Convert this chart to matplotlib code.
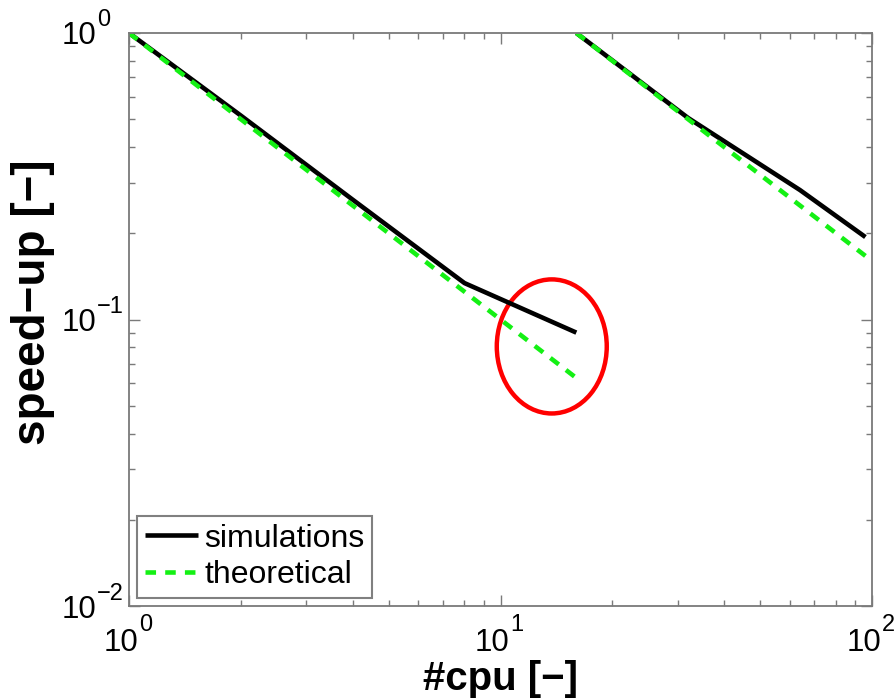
import matplotlib
matplotlib.use('Agg')
import matplotlib.pyplot as plt
from matplotlib.patches import Ellipse
from matplotlib.ticker import LogLocator, NullFormatter

# first run: 1..16 cpus, second run: 16..96 cpus (relative to 16)
cpu_a = [1, 2, 4, 8, 16]
sim_a = [1.0, 0.515, 0.262, 0.134, 0.09]
theo_a = [1.0, 0.5, 0.25, 0.125, 0.0625]

cpu_b = [16, 32, 64, 96]
sim_b = [1.0, 0.505, 0.283, 0.194]
theo_b = [1.0, 0.5, 0.25, 0.1667]

x_ticks = [1, 10, 100]
x_exps = ['0', '1', '2']
y_ticks = [0.01, 0.1, 1]
y_exps = ['\u22122', '\u22121', '0']

plt.rcParams['font.family'] = ['Liberation Sans', 'DejaVu Sans']

W, H = 896, 698
fig = plt.figure(figsize=(W / 100, H / 100), dpi=100)
ax = fig.add_axes([129 / W, 92 / H, 743 / W, 573 / H])

green = '#14f014'
lw = 3.3
ax.plot(cpu_a, sim_a, color='black', lw=lw, label='simulations', solid_capstyle='butt')
ax.plot(cpu_b, sim_b, color='black', lw=lw, solid_capstyle='butt')
ax.plot(cpu_a, theo_a, color=green, lw=lw, dashes=(2.3, 2.0), label='theoretical')
ax.plot(cpu_b, theo_b, color=green, lw=lw, dashes=(2.3, 2.0))

ax.set_xscale('log')
ax.set_yscale('log')
ax.set_xlim(1, 100)
ax.set_ylim(0.01, 1)
ax.xaxis.set_minor_locator(LogLocator(base=10, subs=range(2, 10)))
ax.yaxis.set_minor_locator(LogLocator(base=10, subs=range(2, 10)))
ax.xaxis.set_minor_formatter(NullFormatter())
ax.yaxis.set_minor_formatter(NullFormatter())
ax.set_xticks(x_ticks)
ax.set_yticks(y_ticks)
ax.set_xticklabels([])
ax.set_yticklabels([])

# tick labels as "10" + a large superscript, MATLAB style
base_fs, exp_fs = 22.5, 17
for t, e in zip(x_ticks, x_exps):
    ax.annotate('10', xy=(t, 0), xycoords=('data', 'axes fraction'), xytext=(-25.5, -45),
                textcoords='offset pixels', ha='left', va='baseline', fontsize=base_fs)
    ax.annotate(e, xy=(t, 0), xycoords=('data', 'axes fraction'), xytext=(10, -25),
                textcoords='offset pixels', ha='left', va='baseline', fontsize=exp_fs)
for t, e in zip(y_ticks, y_exps):
    ax.annotate('10', xy=(0, t), xycoords=('axes fraction', 'data'), xytext=(-67, -11.5),
                textcoords='offset pixels', ha='left', va='baseline', fontsize=base_fs)
    ax.annotate(e, xy=(0, t), xycoords=('axes fraction', 'data'), xytext=(-32, 6.5),
                textcoords='offset pixels', ha='left', va='baseline', fontsize=exp_fs)

spine_col = '#7a7a7a'
for s in ax.spines.values():
    s.set_color(spine_col)
    s.set_linewidth(1.3)
ax.tick_params(which='both', direction='in', top=True, right=True, color=spine_col, width=1.0)
ax.tick_params(which='major', length=8)
ax.tick_params(which='minor', length=4)

ax.set_xlabel('#cpu [\u2212]', fontsize=29, fontweight='bold')
ax.set_ylabel('speed\u2212up [\u2212]', fontsize=33, fontweight='bold')
ax.xaxis.set_label_coords(0.5, -0.095)
ax.yaxis.set_label_coords(-0.1, 0.53)

leg = ax.legend(loc='lower left', bbox_to_anchor=(8 / 743, 8 / 573), borderaxespad=0,
                fontsize=23, handlelength=1.65, handletextpad=0.2, borderpad=0.25,
                labelspacing=0.2, fancybox=False, framealpha=1)
leg.get_frame().set_edgecolor('#808080')
leg.get_frame().set_linewidth(1.5)

ax.add_patch(Ellipse((0.569, 0.453), 0.148, 0.234, transform=ax.transAxes,
                     fill=False, edgecolor='red', lw=3.2))

fig.savefig('out.png', dpi=100)
